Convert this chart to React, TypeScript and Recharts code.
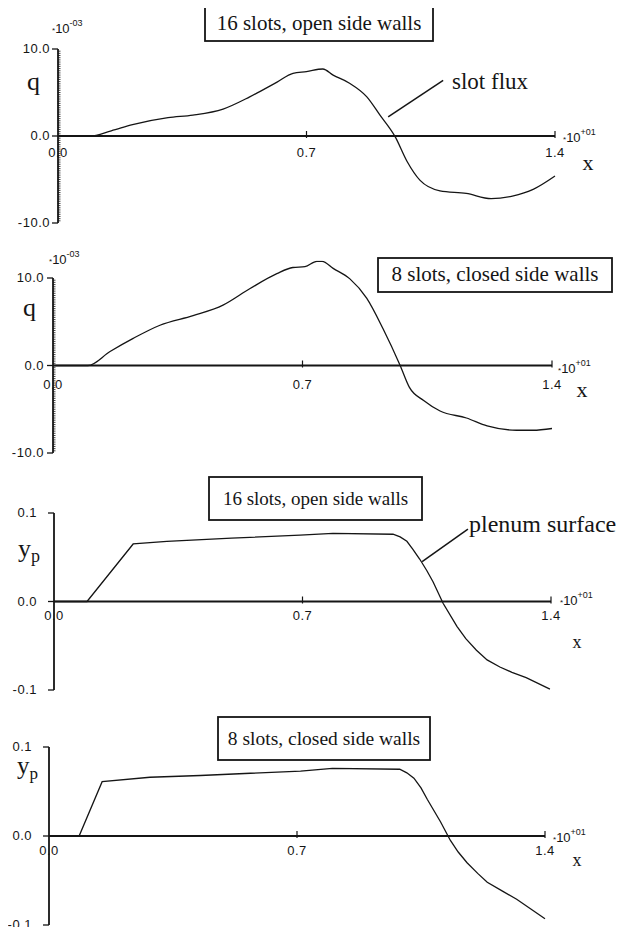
import React from "react";
import { LineChart, Line, XAxis, YAxis, ReferenceLine } from "recharts";

// x in units of 10^+01, q in units of 10^-03, y_p plain
const xFluxOpen16 = [0, 0.09, 0.15, 0.21, 0.31, 0.38, 0.465, 0.54, 0.617, 0.662, 0.7, 0.746, 0.775, 0.82, 0.87, 0.907, 0.95, 0.983, 1.02, 1.076, 1.15, 1.22, 1.28, 1.34, 1.4];
const qOpen16 = [0, 0, 0.6, 1.3, 2.1, 2.4, 3.1, 4.5, 6.2, 7.2, 7.4, 7.7, 7.0, 6.1, 4.5, 2.4, -0.1, -2.9, -5.1, -6.3, -6.6, -7.2, -6.9, -6.1, -4.6];

const xFluxClosed8 = [0, 0.098, 0.16, 0.225, 0.3, 0.393, 0.477, 0.553, 0.628, 0.673, 0.707, 0.74, 0.755, 0.786, 0.833, 0.88, 0.926, 0.974, 1.0, 1.04, 1.086, 1.16, 1.218, 1.3, 1.347, 1.4];
const qClosed8 = [0, 0, 1.6, 3.1, 4.6, 5.7, 6.9, 8.8, 10.5, 11.2, 11.3, 11.9, 11.9, 11.1, 9.9, 7.7, 4.2, 0, -2.5, -4.0, -5.2, -6.0, -6.9, -7.4, -7.4, -7.2];

const xPlenumOpen16 = [0, 0.093, 0.223, 0.318, 0.5, 0.693, 0.786, 0.955, 0.975, 0.994, 1.011, 1.03, 1.05, 1.068, 1.096, 1.135, 1.16, 1.19, 1.22, 1.256, 1.29, 1.33, 1.397];
const ypOpen16 = [0, 0, 0.065, 0.068, 0.0716, 0.075, 0.077, 0.076, 0.073, 0.068, 0.059, 0.048, 0.035, 0.022, -0.002, -0.028, -0.042, -0.055, -0.066, -0.074, -0.08, -0.086, -0.099];

const xPlenumClosed8 = [0, 0.085, 0.15, 0.285, 0.427, 0.71, 0.8, 0.99, 1.01, 1.03, 1.05, 1.068, 1.105, 1.133, 1.155, 1.18, 1.21, 1.237, 1.28, 1.32, 1.4];
const ypClosed8 = [0, 0, 0.061, 0.066, 0.068, 0.073, 0.076, 0.075, 0.071, 0.065, 0.054, 0.041, 0.016, -0.005, -0.018, -0.03, -0.042, -0.052, -0.062, -0.071, -0.093];

const xTicks = [0, 0.7, 1.4];
const qMajors = [-10, 0, 10];
const ypMajors = [-0.1, 0, 0.1];
const qTicks = Array.from({ length: 81 }, (_, i) => -10 + i * 0.25);

const INK = "#151515";
const SANS = '"Liberation Sans", Arial, sans-serif';
const SERIF = '"Liberation Serif", "Times New Roman", serif';

const zip = (xs: number[], vs: number[]) => xs.map((x, i) => ({ x, v: vs[i] }));

const XTick = ({ x, y, payload, shift, dy }: any) => {
  const y0 = y - shift;
  return (
    <g>
      {payload.value > 0 && <line x1={x} x2={x} y1={y0 - 5} y2={y0 + 2} stroke={INK} strokeWidth={1.2} />}
      <text x={x} y={y0 + dy} textAnchor="middle" fontFamily={SANS} fontSize={13} fill={INK} letterSpacing={0.5}>
        {payload.value.toFixed(1)}
      </text>
    </g>
  );
};

const YTick = ({ x, y, payload, majors, gap, fmt }: any) => {
  const v = payload.value;
  const major = majors.some((m: number) => Math.abs(m - v) < 1e-9);
  if (!major) return <line x1={x} x2={x + 2.5} y1={y} y2={y} stroke={INK} strokeWidth={0.8} />;
  return (
    <g>
      <line x1={x - 6} x2={x} y1={y} y2={y} stroke={INK} strokeWidth={1.3} />
      <text x={x - gap} y={y + 4} textAnchor="end" fontFamily={SANS} fontSize={13} fill={INK} letterSpacing={0.5}>
        {fmt(v)}
      </text>
    </g>
  );
};

function Panel({ top, height, margin, data, yDomain, yTicks, majors, fmt, gap, xDy, leader, curve }: any) {
  // plot height: chart minus margins minus the 1px x axis band
  const plotH = height - margin.top - margin.bottom - 1;
  const axisMin = majors[0];
  const axisMax = majors[majors.length - 1];
  return (
    <div style={{ position: "absolute", left: 0, top }}>
      <LineChart width={624} height={height} data={data} margin={margin}>
        <XAxis
          type="number" dataKey="x" domain={[0, 1.4]} ticks={xTicks} interval={0}
          height={1} tickSize={0} tickMargin={0} axisLine={false} tickLine={false}
          tick={(p: any) => <XTick {...p} shift={plotH / 2} dy={xDy} />}
        />
        <YAxis
          type="number" domain={yDomain} ticks={yTicks} interval={0} allowDataOverflow
          width={1} tickSize={0} tickMargin={0} tickLine={false} axisLine={false}
          tick={(p: any) => <YTick {...p} majors={majors} gap={gap} fmt={fmt} />}
        />
        <ReferenceLine segment={[{ x: 0, y: axisMin }, { x: 0, y: axisMax }]} stroke={INK} strokeWidth={1.8} />
        <ReferenceLine y={0} stroke={INK} strokeWidth={1.8} />
        {leader && <ReferenceLine segment={leader} stroke={INK} strokeWidth={1.5} />}
        <Line type={curve} dataKey="v" stroke={INK} strokeWidth={1.3} dot={false} isAnimationActive={false} />
      </LineChart>
    </div>
  );
}

const Exp = ({ x, y, sup }: any) => (
  <text x={x} y={y} fontFamily={SANS} fill={INK}>
    <tspan fontSize={8}>*</tspan>
    <tspan fontSize={13}>10</tspan>
    <tspan fontSize={9} dy={-7}>{sup}</tspan>
  </text>
);

const TitleBox = ({ x, y, w, h, size, base, children }: any) => (
  <g>
    <rect x={x} y={y} width={w} height={h} fill="#fff" stroke={INK} strokeWidth={1.8} />
    <text x={x + w / 2} y={base} textAnchor="middle" fontFamily={SERIF} fontSize={size} fill={INK}>{children}</text>
  </g>
);

export default function App() {
  const fmtQ = (v: number) => v.toFixed(1);
  const fmtYp = (v: number) => v.toFixed(1);
  return (
    <div style={{ position: "relative", width: 624, height: 927, margin: "-8px 0 0 -8px", background: "#fff", overflow: "hidden" }}>
      <Panel
        top={0} height={240} margin={{ top: 49, bottom: 16, left: 57, right: 69 }}
        data={zip(xFluxOpen16, qOpen16)} yDomain={[-10, 10]} yTicks={qTicks} majors={qMajors}
        fmt={fmtQ} gap={8} xDy={21} curve="monotone"
        leader={[{ x: 0.93, y: 2.2 }, { x: 1.085, y: 6.4 }]}
      />
      <Panel
        top={240} height={235} margin={{ top: 20.5, bottom: 3.5, left: 52, right: 72 }}
        data={zip(xFluxClosed8, qClosed8)} yDomain={[-12, 12]} yTicks={qTicks} majors={qMajors}
        fmt={fmtQ} gap={9} xDy={23} curve="monotone"
      />
      <Panel
        top={470} height={235} margin={{ top: 43, bottom: 14, left: 53, right: 73 }}
        data={zip(xPlenumOpen16, ypOpen16)} yDomain={[-0.1, 0.1]} yTicks={ypMajors} majors={ypMajors}
        fmt={fmtYp} gap={17} xDy={18} curve="linear"
        leader={[{ x: 1.037, y: 0.045 }, { x: 1.166, y: 0.0818 }]}
      />
      <Panel
        top={705} height={222} margin={{ top: 42, bottom: 1, left: 48, right: 79 }}
        data={zip(xPlenumClosed8, ypClosed8)} yDomain={[-0.1, 0.1]} yTicks={ypMajors} majors={ypMajors}
        fmt={fmtYp} gap={17} xDy={19} curve="linear"
      />
      <svg width={624} height={927} style={{ position: "absolute", left: 0, top: 0, pointerEvents: "none" }}>
        {/* panel 1 */}
        <TitleBox x={205} y={7} w={228} h={34} size={21} base={30}>16 slots, open side walls</TitleBox>
        <Exp x={52} y={33} sup="-03" />
        <text x={27} y={90} fontFamily={SERIF} fontSize={26} fill={INK}>q</text>
        <Exp x={563} y={142} sup="+01" />
        <text x={588} y={170} textAnchor="middle" fontFamily={SERIF} fontSize={22} fill={INK}>x</text>
        <text x={452} y={89} fontFamily={SERIF} fontSize={23} fill={INK}>slot flux</text>

        {/* panel 2 */}
        <TitleBox x={378} y={258} w={234} h={34} size={21} base={281}>8 slots, closed side walls</TitleBox>
        <Exp x={49} y={264} sup="-03" />
        <text x={23} y={316} fontFamily={SERIF} fontSize={26} fill={INK}>q</text>
        <Exp x={558} y={373} sup="+01" />
        <text x={582} y={397} textAnchor="middle" fontFamily={SERIF} fontSize={22} fill={INK}>x</text>

        {/* panel 3 */}
        <TitleBox x={209} y={477} w={213} h={43} size={19} base={505}>16 slots, open side walls</TitleBox>
        <text x={18} y={557} fontFamily={SERIF} fontSize={26} fill={INK}>
          y<tspan fontSize={18} dy={5}>p</tspan>
        </text>
        <Exp x={560} y={605} sup="+01" />
        <text x={577} y={648} textAnchor="middle" fontFamily={SERIF} fontSize={18} fill={INK}>x</text>
        <text x={469} y={532} fontFamily={SERIF} fontSize={24} fill={INK}>plenum surface</text>

        {/* panel 4 */}
        <TitleBox x={218} y={717} w={212} h={43} size={19.5} base={745}>8 slots, closed side walls</TitleBox>
        <text x={17} y={774} fontFamily={SERIF} fontSize={25} fill={INK}>
          y<tspan fontSize={17} dy={5}>p</tspan>
        </text>
        <Exp x={553} y={842} sup="+01" />
        <text x={577} y={866} textAnchor="middle" fontFamily={SERIF} fontSize={18} fill={INK}>x</text>
      </svg>
    </div>
  );
}
